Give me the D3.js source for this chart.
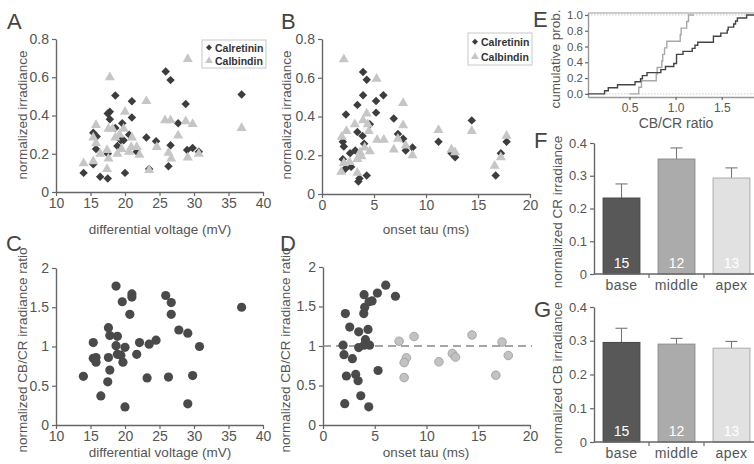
<!DOCTYPE html>
<html>
<head>
<meta charset="utf-8">
<script src="https://cdn.jsdelivr.net/npm/d3@7"></script>
<style>
  body { margin: 0; background: #fff; }
  svg { display: block; font-family: "Liberation Sans", Arial, sans-serif; }
</style>
</head>
<body>
<div id="fig"></div>
<script>
// ---- data ----
// A: differential voltage (mV) vs normalized irradiance
const voltCR = [[14,0.10],[15.4,0.31],[15.9,0.29],[15.4,0.145],[15.8,0.225],[16.4,0.08],[17.5,0.07],[17.5,0.20],[17.5,0.41],[17.8,0.42],[17.8,0.38],[18.6,0.505],[18.6,0.335],[18.9,0.24],[19.4,0.27],[19.6,0.36],[19.8,0.27],[20.0,0.10],[20.6,0.30],[21.0,0.475],[21.0,0.39],[21.7,0.21],[23.1,0.285],[23.5,0.12],[24.5,0.265],[25.9,0.63],[26.3,0.135],[26.6,0.585],[26.6,0.245],[27.7,0.36],[28.8,0.46],[29.0,0.22],[29.8,0.23],[30.7,0.21],[36.9,0.51]];
const voltCB = [[14,0.155],[15.4,0.165],[15.4,0.29],[15.8,0.355],[15.8,0.26],[16.4,0.205],[17.4,0.225],[17.4,0.125],[17.6,0.18],[17.8,0.605],[17.6,0.335],[18.2,0.335],[18.6,0.29],[18.9,0.205],[19.2,0.305],[19.5,0.23],[19.8,0.335],[20.0,0.425],[21.0,0.29],[20.9,0.24],[20.6,0.215],[21.7,0.24],[22.1,0.20],[23.1,0.48],[23.5,0.12],[24.6,0.24],[25.8,0.38],[26.3,0.21],[26.6,0.38],[26.7,0.18],[27.7,0.30],[28.8,0.375],[29.1,0.70],[29.1,0.185],[29.8,0.36],[30.7,0.205],[36.9,0.34]];
// B: onset tau (ms) vs normalized irradiance
const tauCR = [[2.0,0.27],[2.1,0.245],[2.3,0.41],[2.0,0.18],[2.25,0.13],[2.7,0.21],[2.8,0.14],[3.2,0.225],[3.4,0.46],[3.5,0.065],[3.6,0.08],[3.95,0.63],[3.95,0.51],[3.9,0.30],[4.05,0.26],[4.3,0.59],[4.3,0.095],[4.6,0.36],[5.2,0.48],[5.2,0.42],[5.9,0.51],[6.9,0.39],[7.3,0.31],[7.8,0.285],[8.05,0.225],[8.7,0.24],[11.2,0.27],[12.45,0.21],[12.8,0.19],[14.4,0.38],[16.7,0.095],[17.2,0.21],[17.75,0.27],[3.4,0.32]];
const tauCB = [[2.1,0.70],[1.9,0.30],[1.85,0.12],[2.1,0.165],[2.35,0.33],[2.65,0.17],[3.15,0.365],[3.4,0.115],[3.4,0.185],[3.65,0.22],[3.8,0.20],[3.95,0.385],[4.1,0.245],[4.3,0.42],[4.4,0.365],[4.5,0.33],[4.6,0.225],[5.25,0.60],[5.3,0.285],[5.95,0.285],[6.9,0.235],[7.3,0.29],[7.8,0.475],[7.8,0.36],[8.05,0.255],[8.7,0.205],[11.2,0.335],[12.45,0.235],[12.8,0.22],[14.4,0.33],[16.6,0.15],[17.2,0.195],[17.75,0.305]];
// C: differential voltage vs CB/CR ratio
const voltRatio = [[13.97,0.62],[15.4,1.05],[15.4,0.85],[15.8,0.86],[15.8,0.80],[16.5,0.37],[17.5,0.55],[17.6,1.24],[17.6,0.86],[17.8,1.14],[17.8,0.70],[18.7,1.77],[18.7,1.01],[18.9,1.13],[18.9,0.90],[19.4,0.89],[19.6,1.57],[19.7,0.80],[20.0,0.99],[20.0,0.23],[20.7,1.41],[21.0,1.67],[21.0,1.63],[21.7,0.90],[22.1,1.05],[23.2,0.60],[23.5,1.03],[24.5,1.08],[25.9,1.65],[26.3,0.61],[26.7,1.56],[26.7,1.41],[27.8,1.21],[29.1,1.17],[29.1,0.27],[29.8,0.63],[30.8,1.00],[36.9,1.50]];
// D: onset tau vs CB/CR ratio (fast / slow groups)
const tauRatioFast = [[1.94,1.01],[2.03,0.89],[2.16,1.41],[2.26,0.62],[2.1,0.27],[2.58,1.24],[2.84,0.84],[3.16,0.64],[3.39,0.56],[3.45,1.18],[3.45,0.98],[3.65,0.37],[3.97,1.65],[4.03,1.49],[3.94,1.41],[4.1,1.08],[3.97,1.01],[4.35,1.21],[4.42,0.23],[4.45,1.56],[4.5,1.01],[4.74,1.57],[5.26,1.67],[5.32,0.69],[6.06,1.77],[7.0,1.63]];
const tauRatioSlow = [[7.35,1.06],[8.06,0.85],[7.84,0.79],[7.84,0.60],[8.8,1.12],[11.2,0.80],[12.5,0.905],[12.8,0.86],[14.4,1.14],[16.7,0.63],[17.3,1.05],[17.9,0.88]];
// F, G: bar charts
const regions = ["base", "middle", "apex"];
const crMean = [0.232, 0.351, 0.293];
const crSem = [0.043, 0.034, 0.031];
const cbMean = [0.295, 0.29, 0.278];
const cbSem = [0.042, 0.017, 0.02];
const cellCounts = [15, 12, 13];

const yTicksIrr = [0, 0.2, 0.4, 0.6, 0.8];
const yTicksRatio = [0, 0.5, 1, 1.5, 2];
const yTicksBar = [0, 0.1, 0.2, 0.3, 0.4];
const yTicksCum = [0, 0.2, 0.4, 0.6, 0.8, 1.0];
const xTicksCum = [0.5, 1.0, 1.5];

// ---- drawing ----
const W = 754, H = 464;
const ink = "#555", axisCol = "#666";
const darkMark = "#3d3d3d", lightMark = "#c6c6c6";
const barFill = ["#585858", "#ababab", "#e1e1e1"];
const barStroke = ["#464646", "#8c8c8c", "#ababab"];

const svg = d3.select("#fig").append("svg").attr("width", W).attr("height", H);

function styleAxis(g, fs) {
  g.attr("font-family", "'Liberation Sans', Arial, sans-serif");
  g.select(".domain").attr("stroke", axisCol).attr("stroke-width", 1.4);
  g.selectAll(".tick line").attr("stroke", axisCol).attr("stroke-width", 1.2);
  g.selectAll(".tick text").attr("fill", ink).attr("font-size", fs || 14);
}

function letter(t, x, y) {
  svg.append("text").attr("x", x).attr("y", y).text(t)
    .attr("font-size", 22).attr("fill", "#444");
}

function title(t, x, y, rot, fs) {
  const el = svg.append("text").text(t).attr("text-anchor", "middle")
    .attr("fill", ink).attr("font-size", fs || 13.5);
  if (rot) el.attr("transform", `translate(${x},${y}) rotate(-90)`);
  else el.attr("x", x).attr("y", y);
  return el;
}

function scatterAxes(box, xDom, yDom, xTicks, yTicks, yFmt) {
  const x = d3.scaleLinear().domain(xDom).range([box.l, box.r]);
  const y = d3.scaleLinear().domain(yDom).range([box.b, box.t]);
  svg.append("g").attr("transform", `translate(0,${box.b})`)
    .call(d3.axisBottom(x).tickValues(xTicks).tickSize(4).tickPadding(2).tickSizeOuter(0).tickFormat(d3.format("d")))
    .call(g => styleAxis(g));
  svg.append("g").attr("transform", `translate(${box.l},0)`)
    .call(d3.axisLeft(y).tickValues(yTicks).tickSize(4).tickSizeOuter(0).tickFormat(yFmt))
    .call(g => styleAxis(g));
  return { x, y };
}

const fmtIrr = d => d === 0 ? "0" : d3.format(".1f")(d);
const fmtRatio = d => String(d);

const diamond = d3.symbol().type(d3.symbolSquare).size(36)();
const triangle = d3.symbol().type(d3.symbolTriangle).size(44)();

function drawDiamonds(s, data) {
  svg.append("g").selectAll("path").data(data).join("path")
    .attr("d", diamond).attr("fill", darkMark)
    .attr("transform", d => `translate(${s.x(d[0])},${s.y(d[1])}) rotate(45)`);
}
function drawTriangles(s, data) {
  svg.append("g").selectAll("path").data(data).join("path")
    .attr("d", triangle).attr("fill", lightMark)
    .attr("transform", d => `translate(${s.x(d[0])},${s.y(d[1]) + 1})`);
}
function legend(x, y, h) {
  const g = svg.append("g").attr("transform", `translate(${x},${y})`);
  g.append("rect").attr("width", 64).attr("height", h).attr("fill", "#fff")
    .attr("stroke", "#c8c8c8").attr("stroke-width", 1);
  g.append("path").attr("d", d3.symbol().type(d3.symbolSquare).size(18)())
    .attr("fill", darkMark).attr("transform", `translate(7,${h * 0.27}) rotate(45)`);
  g.append("path").attr("d", d3.symbol().type(d3.symbolTriangle).size(26)())
    .attr("fill", lightMark).attr("transform", `translate(7,${h * 0.74})`);
  g.append("text").attr("x", 13).attr("y", h * 0.27 + 4).text("Calretinin")
    .attr("font-size", 10.5).attr("font-weight", "bold").attr("fill", "#333");
  g.append("text").attr("x", 13).attr("y", h * 0.74 + 4).text("Calbindin")
    .attr("font-size", 10.5).attr("font-weight", "bold").attr("fill", "#333");
}

// Panel A
const sA = scatterAxes({ l: 56, r: 263, t: 39, b: 192 }, [10, 40], [0, 0.8], d3.range(10, 41, 5), yTicksIrr, fmtIrr);
drawDiamonds(sA, voltCR);
drawTriangles(sA, voltCB);
legend(202, 40, 28);
letter("A", 7, 29);
title("normalized irradiance", 27, 115, true);
title("differential voltage (mV)", 160, 234);

// Panel B
const sB = scatterAxes({ l: 322, r: 530, t: 39, b: 194 }, [0, 20], [0, 0.8], d3.range(0, 21, 5), yTicksIrr, fmtIrr);
drawDiamonds(sB, tauCR);
drawTriangles(sB, tauCB);
legend(468, 33, 32);
letter("B", 281, 29);
title("normalized irradiance", 291, 115, true);
title("onset tau (ms)", 426, 234);

// Panel C
const sC = scatterAxes({ l: 56, r: 263, t: 268, b: 425 }, [10, 40], [0, 2], d3.range(10, 41, 5), yTicksRatio, fmtRatio);
svg.append("g").selectAll("circle").data(voltRatio).join("circle")
  .attr("cx", d => sC.x(d[0])).attr("cy", d => sC.y(d[1])).attr("r", 4.6).attr("fill", "#4a4a4a");
letter("C", 6, 251);
title("normalized CB/CR irradiance ratio", 27, 350, true);
title("differential voltage (mV)", 160, 457);

// Panel D
const sD = scatterAxes({ l: 323, r: 530, t: 267, b: 425 }, [0, 20], [0, 2], d3.range(0, 21, 5), yTicksRatio, fmtRatio);
svg.append("line").attr("x1", sD.x(0)).attr("x2", sD.x(20.2)).attr("y1", sD.y(1)).attr("y2", sD.y(1))
  .attr("stroke", "#888").attr("stroke-width", 1.3).attr("stroke-dasharray", "8,5");
svg.append("g").selectAll("circle").data(tauRatioFast).join("circle")
  .attr("cx", d => sD.x(d[0])).attr("cy", d => sD.y(d[1])).attr("r", 4.6).attr("fill", "#4a4a4a");
svg.append("g").selectAll("circle").data(tauRatioSlow).join("circle")
  .attr("cx", d => sD.x(d[0])).attr("cy", d => sD.y(d[1])).attr("r", 4.3)
  .attr("fill", "#c2c2c2").attr("stroke", "#999").attr("stroke-width", 0.8);
letter("D", 280, 251);
title("normalized CB/CR irradiance ratio", 290, 350, true);
title("onset tau (ms)", 426, 457);

// Panel E: cumulative distributions of the two ratio groups
const xE = d3.scaleLinear().domain([0.05, 1.85]).range([588, 754]);
const yE = d3.scaleLinear().domain([-0.04, 1.025]).range([97, 13]);
[0, 1].forEach(v => svg.append("line").attr("x1", 588).attr("x2", 754)
  .attr("y1", yE(v)).attr("y2", yE(v)).attr("stroke", "#ccc").attr("stroke-dasharray", "1.5,1.5"));
svg.append("line").attr("x1", 588).attr("x2", 754).attr("y1", 13).attr("y2", 13)
  .attr("stroke", "#999").attr("stroke-width", 1.2);
svg.append("g").attr("transform", "translate(0,97)")
  .call(d3.axisBottom(xE).tickValues(xTicksCum).tickSize(3).tickPadding(3).tickSizeOuter(0).tickFormat(d3.format(".1f")))
  .call(g => styleAxis(g, 12))
  .call(g => g.select(".domain").attr("stroke", "#999"));
svg.append("g").attr("transform", "translate(588,0)")
  .call(d3.axisLeft(yE).tickValues(yTicksCum).tickSize(3).tickPadding(2).tickSizeOuter(0).tickFormat(d3.format(".1f")))
  .call(g => styleAxis(g, 11.5))
  .call(g => g.select(".domain").attr("stroke", "#999"));

function ecdf(vals, x0, x1) {
  const s = vals.map(d => d[1]).sort(d3.ascending);
  const pts = [[x0, 0]];
  s.forEach((v, i) => pts.push([v, (i + 1) / s.length]));
  pts.push([x1, 1]);
  return pts;
}
const stepLine = d3.line().x(d => xE(d[0])).y(d => yE(d[1])).curve(d3.curveStepAfter);
svg.append("path").attr("d", stepLine(ecdf(tauRatioSlow, 0.5, 1.2)))
  .attr("fill", "none").attr("stroke", "#a8a8a8").attr("stroke-width", 1.4);
svg.append("path").attr("d", stepLine(ecdf(tauRatioFast, 0.05, 1.85)))
  .attr("fill", "none").attr("stroke", "#444").attr("stroke-width", 1.4);
letter("E", 533, 27);
title("cumulative prob.", 560, 59, true, 13.5);
title("CB/CR ratio", 676, 128, false, 14);

// Panels F and G: bars
function barPanel(top, bottom, means, sems, lab, letterY, titleY) {
  const x = d3.scaleBand().domain(regions).range([594, 759]).paddingInner(0.33).paddingOuter(0.165);
  const y = d3.scaleLinear().domain([0, 0.4]).range([bottom, top]);
  const g = svg.append("g");
  regions.forEach((r, i) => {
    const cx = x(r) + x.bandwidth() / 2;
    g.append("line").attr("x1", cx).attr("x2", cx).attr("y1", y(means[i])).attr("y2", y(means[i] + sems[i]))
      .attr("stroke", "#777").attr("stroke-width", 1.1);
    g.append("line").attr("x1", cx - 6).attr("x2", cx + 6).attr("y1", y(means[i] + sems[i])).attr("y2", y(means[i] + sems[i]))
      .attr("stroke", "#777").attr("stroke-width", 1.1);
    g.append("rect").attr("x", x(r)).attr("width", x.bandwidth())
      .attr("y", y(means[i])).attr("height", y(0) - y(means[i]))
      .attr("fill", barFill[i]).attr("stroke", barStroke[i]).attr("stroke-width", 1);
    g.append("text").attr("x", cx).attr("y", bottom - 6).attr("text-anchor", "middle")
      .attr("fill", "#fff").attr("font-size", 14).text(cellCounts[i]);
    g.append("text").attr("x", cx).attr("y", bottom + 16).attr("text-anchor", "middle")
      .attr("fill", ink).attr("font-size", 14).attr("letter-spacing", 0.4).text(r);
  });
  svg.append("line").attr("x1", 594).attr("x2", 754).attr("y1", bottom).attr("y2", bottom)
    .attr("stroke", axisCol).attr("stroke-width", 1.4);
  [1, 2].forEach(k => svg.append("line").attr("x1", 594 + k * x.step()).attr("x2", 594 + k * x.step())
    .attr("y1", bottom).attr("y2", bottom + 4).attr("stroke", axisCol).attr("stroke-width", 1.2));
  svg.append("g").attr("transform", "translate(594,0)")
    .call(d3.axisLeft(y).tickValues(yTicksBar).tickSize(4).tickSizeOuter(0).tickFormat(d => d === 0 ? "0" : d3.format(".1f")(d)))
    .call(g => styleAxis(g, 13));
  letter(lab[0], 534, letterY);
  title(lab[1], 562, titleY, true, 13.5);
}
barPanel(143, 274, crMean, crSem, ["F", "normalized CR irradiance"], 148, 212);
barPanel(307, 442, cbMean, cbSem, ["G", "normalized CB irradiance"], 317, 378);
</script>
</body>
</html>
